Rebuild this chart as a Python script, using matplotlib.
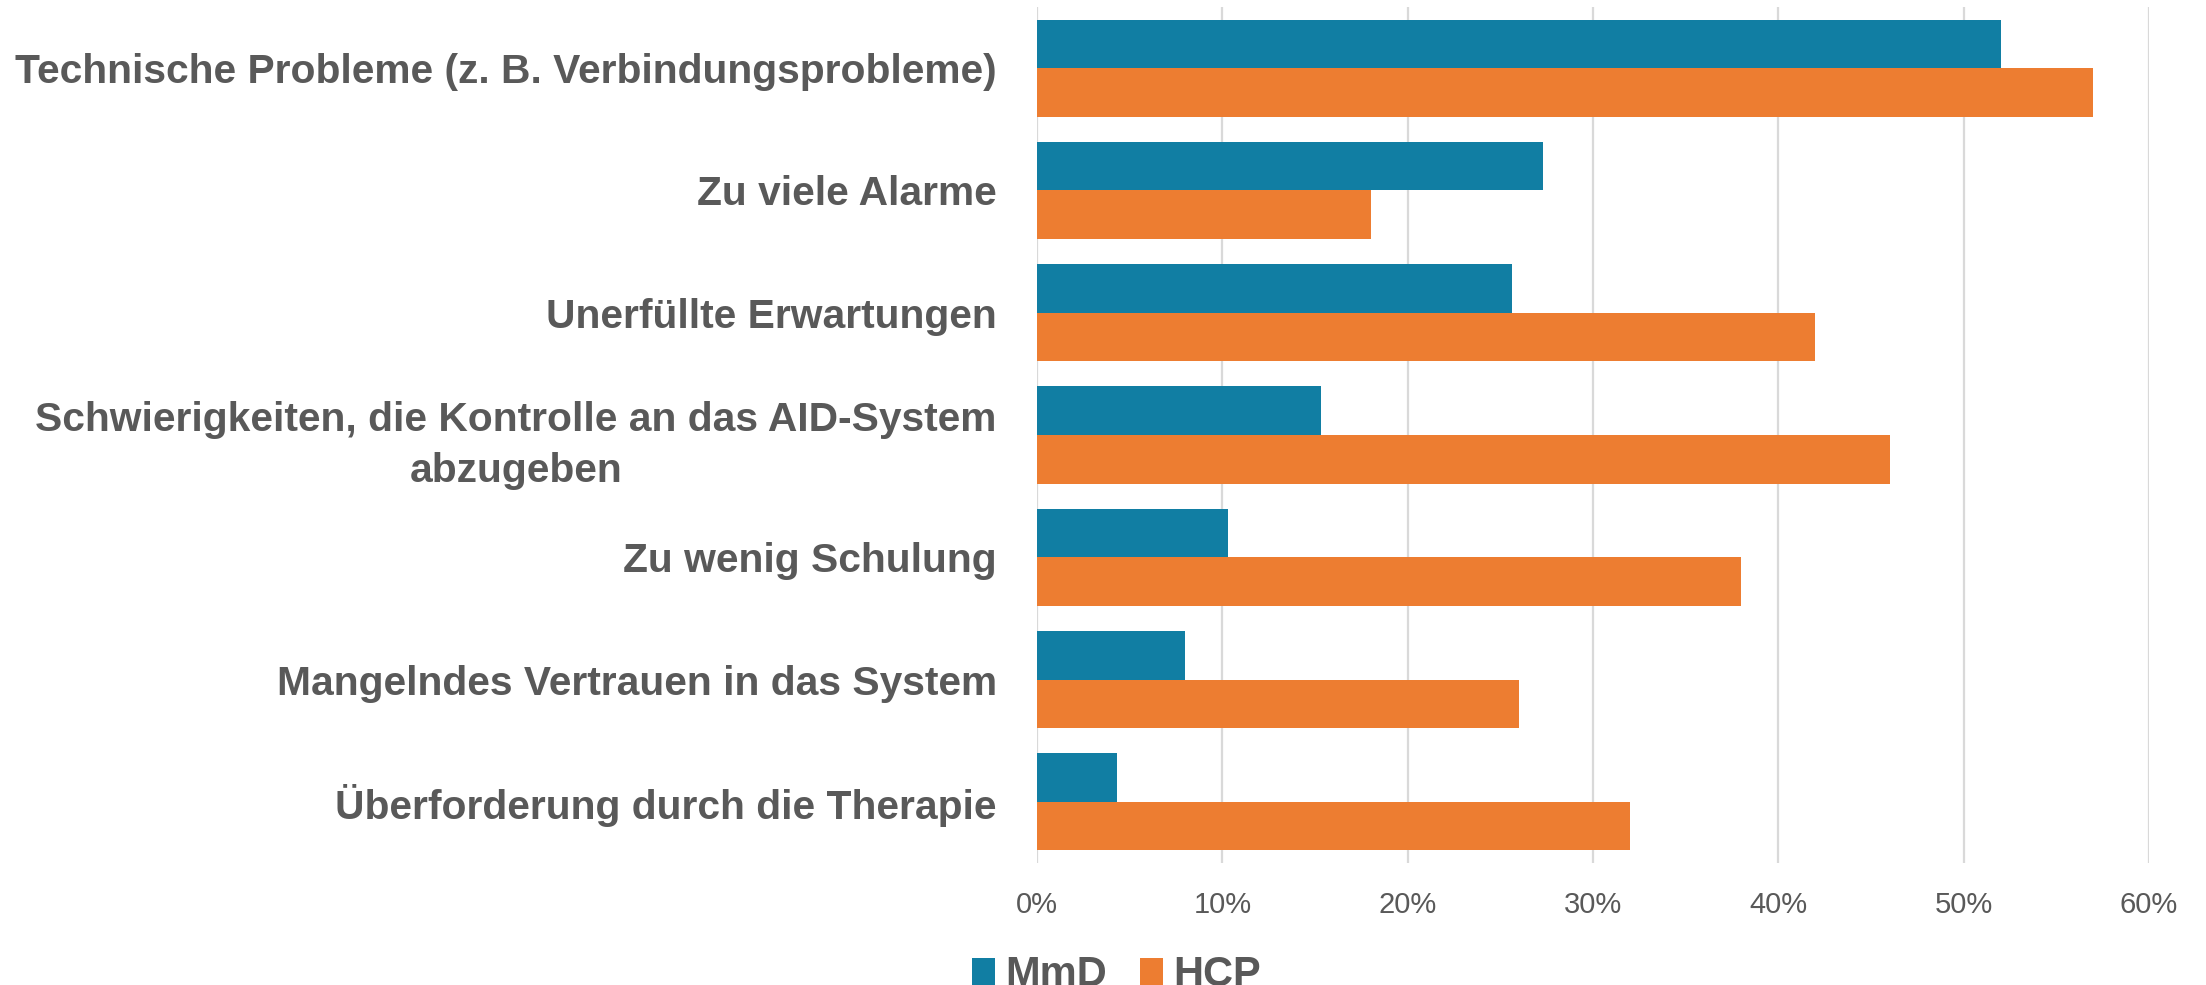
import matplotlib
matplotlib.use('Agg')
import matplotlib.pyplot as plt
from matplotlib.patches import Patch
import numpy as np

# data (percent)
categories = [
    'Technische Probleme (z. B. Verbindungsprobleme)',
    'Zu viele Alarme',
    'Unerfüllte Erwartungen',
    'Schwierigkeiten, die Kontrolle an das AID-System\nabzugeben',
    'Zu wenig Schulung',
    'Mangelndes Vertrauen in das System',
    'Überforderung durch die Therapie',
]
mmd = [52.0, 27.3, 25.6, 15.3, 10.3, 8.0, 4.3]
hcp = [57.0, 18.0, 42.0, 46.0, 38.0, 26.0, 32.0]
series_names = ['MmD', 'HCP']
xticks = [0, 10, 20, 30, 40, 50, 60]

TEAL = '#117EA3'
ORANGE = '#ED7D31'
TEXT = '#595959'
GRID = '#D9D9D9'
LABEL_FONT = ['Liberation Sans', 'DejaVu Sans']

fig = plt.figure(figsize=(22.06, 9.85), dpi=100)
ax = fig.add_axes([0.4701, 0.1239, 0.5041, 0.869])

y = np.arange(len(categories))
h = 0.397
ax.barh(y - h / 2, mmd, height=h, color=TEAL, zorder=3)
ax.barh(y + h / 2, hcp, height=h, color=ORANGE, zorder=3)

ax.set_ylim(len(categories) - 0.5, -0.5)
ax.set_xlim(0, 60)
ax.set_xticks(xticks)
ax.set_xticklabels([f'{t}%' for t in xticks], fontsize=21, color=TEXT,
                   family='Liberation Sans')
ax.xaxis.grid(True, color=GRID, linewidth=1.6, zorder=0)
ax.tick_params(axis='x', length=0, pad=20)
ax.tick_params(axis='y', length=0, pad=29)
ax.set_yticks(y)
ax.set_yticklabels(categories, fontsize=29.3, fontweight='bold', color=TEXT,
                   family=LABEL_FONT, multialignment='center', linespacing=1.45)
for s in ax.spines.values():
    s.set_visible(False)

handles = [Patch(facecolor=TEAL), Patch(facecolor=ORANGE)]
fig.legend(handles, series_names, loc='center left',
           bbox_to_anchor=(955 / 2206, 1 - 975 / 985), ncol=2, frameon=False,
           prop={'family': LABEL_FONT, 'weight': 'bold', 'size': 30},
           labelcolor=TEXT, handlelength=0.55, handleheight=0.6,
           handletextpad=0.25, columnspacing=0.8, borderaxespad=0)

fig.savefig('out.png', dpi=100, facecolor='white')
